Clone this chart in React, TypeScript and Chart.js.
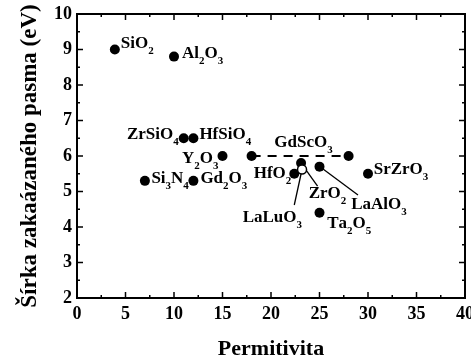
import React, { useEffect, useRef } from "react";
import { Chart, registerables } from "chart.js";
Chart.register(...registerables);

// ---- data ----
const names = ["SiO2", "Al2O3", "ZrSiO4", "HfSiO4", "Y2O3", "Si3N4", "Gd2O3", "GdScO3", "", "HfO2", "ZrO2", "LaAlO3", "SrZrO3", "Ta2O5"];
const permittivity = [3.9, 10, 11, 12, 15, 7, 12, 18, 28, 22.4, 23.1, 25, 30, 25];
const bandGap = [9.0, 8.8, 6.5, 6.5, 6.0, 5.3, 5.3, 6.0, 6.0, 5.5, 5.8, 5.7, 5.5, 4.4];
const openNames = ["LaLuO3"];
const openPermittivity = [23.2];
const openBandGap = [5.62];
const gdScLineK = [18, 28];
const gdScLineEg = [6.0, 6.0];
const leaderZrO2K = [23.1, 24.8];
const leaderZrO2Eg = [5.8, 5.15];
const leaderLaLuO3K = [23.2, 22.4];
const leaderLaLuO3Eg = [5.62, 4.62];
const leaderLaAlO3K = [25.05, 28.97];
const leaderLaAlO3Eg = [5.7, 4.9];
const xTicks = [0, 5, 10, 15, 20, 25, 30, 35, 40];
const yTicks = [2, 3, 4, 5, 6, 7, 8, 9, 10];
const xTitle = "Permitivita";
const yTitle = "Šírka zakaázaného pasma (eV)";

// ---- label layout (pixel offsets from the point) ----
const labelLayout: { name: string; open?: boolean; dx: number; dy: number; right?: boolean }[] = [
  { name: "SiO2", dx: 6, dy: -2 },
  { name: "Al2O3", dx: 8, dy: 1 },
  { name: "ZrSiO4", dx: -5, dy: 0.5, right: true },
  { name: "HfSiO4", dx: 6, dy: 0.5 },
  { name: "Y2O3", dx: -4, dy: 7, right: true },
  { name: "Si3N4", dx: 6.5, dy: 1.7 },
  { name: "Gd2O3", dx: 7, dy: 1.7 },
  { name: "GdScO3", dx: 22.7, dy: -9 },
  { name: "HfO2", dx: -3, dy: 4, right: true },
  { name: "ZrO2", dx: 7.6, dy: 35 },
  { name: "LaAlO3", dx: 31.7, dy: 42.6 },
  { name: "SrZrO3", dx: 5.7, dy: 0 },
  { name: "Ta2O5", dx: 7.7, dy: 15 },
  { name: "LaLuO3", open: true, dx: 0, dy: 53, right: true },
];

const FONT = "'Liberation Serif', 'Times New Roman', serif";
const MAIN = `bold 17px ${FONT}`;
const SUB = `bold 11px ${FONT}`;

function formulaWidth(ctx: CanvasRenderingContext2D, s: string) {
  let w = 0;
  for (const ch of s) {
    ctx.font = /[0-9]/.test(ch) ? SUB : MAIN;
    w += ctx.measureText(ch).width;
  }
  return w;
}

function drawFormula(ctx: CanvasRenderingContext2D, s: string, x: number, y: number) {
  let cx = x;
  for (const ch of s) {
    const sub = /[0-9]/.test(ch);
    ctx.font = sub ? SUB : MAIN;
    ctx.fillText(ch, cx, sub ? y + 6 : y);
    cx += ctx.measureText(ch).width;
  }
}

const decor = {
  id: "decor",
  afterDraw(chart: any) {
    const ctx: CanvasRenderingContext2D = chart.ctx;
    const { left, right, top, bottom } = chart.chartArea;
    const xs = chart.scales.x;
    const ys = chart.scales.y;
    ctx.save();
    ctx.strokeStyle = "#000";
    ctx.fillStyle = "#000";
    // frame
    ctx.lineWidth = 2;
    ctx.strokeRect(left, top, right - left, bottom - top);
    // ticks
    ctx.lineWidth = 1.5;
    ctx.beginPath();
    for (let v = 0; v <= 40.001; v += 2.5) {
      const px = xs.getPixelForValue(v);
      const len = Math.abs(v % 5) < 0.01 ? 6 : 3;
      ctx.moveTo(px, bottom); ctx.lineTo(px, bottom - len);
      ctx.moveTo(px, top); ctx.lineTo(px, top + len);
    }
    for (let v = 2; v <= 10.001; v += 0.5) {
      const py = ys.getPixelForValue(v);
      const len = Math.abs(v % 1) < 0.01 ? 6 : 3;
      ctx.moveTo(left, py); ctx.lineTo(left + len, py);
      ctx.moveTo(right, py); ctx.lineTo(right - len, py);
    }
    ctx.stroke();
    // labels
    ctx.textBaseline = "alphabetic";
    ctx.textAlign = "left";
    for (const l of labelLayout) {
      let px: number, py: number;
      if (l.open) {
        const i = openNames.indexOf(l.name);
        px = xs.getPixelForValue(openPermittivity[i]);
        py = ys.getPixelForValue(openBandGap[i]);
      } else {
        const i = names.indexOf(l.name);
        px = xs.getPixelForValue(permittivity[i]);
        py = ys.getPixelForValue(bandGap[i]);
      }
      let x = px + l.dx;
      if (l.right) x -= formulaWidth(ctx, l.name);
      drawFormula(ctx, l.name, x, py + l.dy);
    }
    // axis titles
    ctx.font = `bold 22px ${FONT}`;
    ctx.textAlign = "center";
    ctx.fillText(xTitle, (left + right) / 2, bottom + 57);
    ctx.font = `bold 23px ${FONT}`;
    ctx.translate(left - 41, (top + bottom) / 2);
    ctx.rotate(-Math.PI / 2);
    ctx.fillText(yTitle, 0, 0);
    ctx.restore();
  },
};

export default function App() {
  const ref = useRef<HTMLCanvasElement>(null);
  useEffect(() => {
    if (!ref.current) return;
    const pts = (xs: number[], ys: number[]) => xs.map((x, i) => ({ x, y: ys[i] }));
    const leader = (xs: number[], ys: number[]) => ({
      data: pts(xs, ys),
      showLine: true,
      borderColor: "#000",
      borderWidth: 1.3,
      pointRadius: 0,
      order: 5,
    });
    const chart = new Chart(ref.current, {
      type: "scatter",
      data: {
        datasets: [
          {
            data: pts(openPermittivity, openBandGap),
            pointRadius: 4.5,
            pointBackgroundColor: "#fff",
            pointBorderColor: "#000",
            pointBorderWidth: 1.5,
            order: 0,
          },
          {
            data: pts(permittivity, bandGap),
            pointRadius: 5,
            pointBackgroundColor: "#000",
            pointBorderColor: "#000",
            pointBorderWidth: 0,
            order: 1,
          },
          {
            data: pts(gdScLineK, gdScLineEg),
            showLine: true,
            borderColor: "#000",
            borderWidth: 2,
            borderDash: [9, 7],
            pointRadius: 0,
            order: 4,
          },
          leader(leaderZrO2K, leaderZrO2Eg),
          leader(leaderLaLuO3K, leaderLaLuO3Eg),
          leader(leaderLaAlO3K, leaderLaAlO3Eg),
        ],
      },
      options: {
        animation: false,
        responsive: false,
        maintainAspectRatio: false,
        layout: { padding: { top: 14, right: 6, left: 0, bottom: 0 } },
        plugins: { legend: { display: false }, tooltip: { enabled: false } },
        scales: {
          x: {
            type: "linear",
            min: 0,
            max: 40,
            afterBuildTicks: (s: any) => { s.ticks = xTicks.map((v) => ({ value: v })); },
            afterFit: (s: any) => { s.height = 64; s.paddingLeft = 0; s.paddingRight = 0; },
            grid: { display: false, drawTicks: false },
            border: { display: false },
            ticks: { color: "#000", padding: 6, font: { family: FONT, size: 18, weight: "bold" }, maxRotation: 0 },
          },
          y: {
            type: "linear",
            min: 2,
            max: 10,
            afterBuildTicks: (s: any) => { s.ticks = yTicks.map((v) => ({ value: v })); },
            afterFit: (s: any) => { s.width = 77; s.paddingTop = 0; s.paddingBottom = 0; },
            grid: { display: false, drawTicks: false },
            border: { display: false },
            ticks: { color: "#000", padding: 5, font: { family: FONT, size: 18, weight: "bold" } },
          },
        },
      },
      plugins: [decor],
    } as any);
    return () => chart.destroy();
  }, []);
  return (
    <div style={{ position: "absolute", left: 0, top: 0, width: 471, height: 362, background: "#fff" }}>
      <canvas ref={ref} width={471} height={362} />
    </div>
  );
}
